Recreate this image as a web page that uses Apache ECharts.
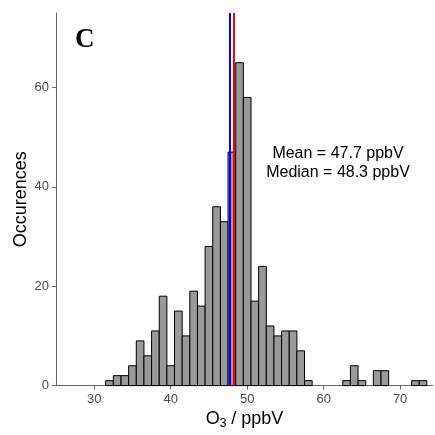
<!DOCTYPE html>
<html>
<head>
    <meta charset="utf-8">
    <title>O3 histogram</title>
    <script src="https://cdn.jsdelivr.net/npm/echarts@6/dist/echarts.min.js"></script>
    <style>
        html, body { margin: 0; padding: 0; background: #fff; }
    </style>
</head>
<body>
    <div id="main" style="width: 435px; height: 435px;"></div>
    <script type="text/javascript">
        // bin centres (ppbV), 1 ppbV wide
        var binCenters = [32, 33, 34, 35, 36, 37, 38, 39, 40, 41, 42, 43, 44, 45, 46, 47, 48, 49, 50,
                          51, 52, 53, 54, 55, 56, 57, 58, 59, 60, 61, 62, 63, 64, 65, 66, 67, 68, 69, 70, 71, 72, 73];
        var counts = [1, 2, 2, 4, 9, 6, 11, 18, 4, 15, 10, 19, 16, 28, 36, 33, 47, 65, 58,
                      17, 24, 12, 10, 11, 11, 7, 1, 0, 0, 0, 0, 1, 4, 1, 0, 3, 3, 0, 0, 0, 1, 1];
        var xTicks = [30, 40, 50, 60, 70];
        var yTicks = [0, 20, 40, 60];
        var meanVal = 47.7;
        var medianVal = 48.3;

        var myChart = echarts.init(document.getElementById('main'));

        var bins = binCenters.map(function (c, i) { return [c, counts[i]]; })
                             .filter(function (d) { return d[1] > 0; });

        var option = {
            animation: false,
            textStyle: { fontFamily: 'Liberation Sans, Arial, sans-serif' },
            grid: { left: 56, right: 2, top: 13, bottom: 49 },
            xAxis: {
                type: 'value',
                min: 25,
                max: 74.3,
                name: '{n|O}{s|3}{n| / ppbV}',
                nameLocation: 'middle',
                nameGap: 17,
                nameTextStyle: {
                    rich: {
                        n: { fontSize: 18, color: '#000', fontFamily: 'Liberation Sans' },
                        s: { fontSize: 12, color: '#000', verticalAlign: 'bottom', padding: [9, 0, 0, 0], fontFamily: 'Liberation Sans' }
                    }
                },
                splitLine: { show: false },
                axisLine: { lineStyle: { color: '#666', width: 1 } },
                axisTick: { customValues: xTicks, length: 4, lineStyle: { color: '#666' } },
                axisLabel: { customValues: xTicks, color: '#4d4d4d', fontSize: 13, margin: 7 }
            },
            yAxis: {
                type: 'value',
                min: 0,
                max: 75,
                name: 'Occurences',
                nameLocation: 'middle',
                nameGap: 26,
                nameMoveOverlap: false,
                nameTextStyle: { fontSize: 18, color: '#000' },
                splitLine: { show: false },
                axisLine: { show: true, lineStyle: { color: '#666', width: 1 } },
                axisTick: { show: true, customValues: yTicks, length: 4, lineStyle: { color: '#666' } },
                axisLabel: { customValues: yTicks, color: '#4d4d4d', fontSize: 13, margin: 7 }
            },
            graphic: [
                {
                    type: 'text', left: 75, top: 27,
                    style: { text: 'C', font: 'bold 27px "Liberation Serif", "Times New Roman", serif', fill: '#000' }
                },
                {
                    type: 'text', x: 338, y: 163,
                    style: {
                        text: 'Mean = 47.7 ppbV\nMedian = 48.3 ppbV',
                        font: '16px "Liberation Sans", Arial, sans-serif',
                        fill: '#000', align: 'center', verticalAlign: 'middle', lineHeight: 19
                    }
                }
            ],
            series: [
                {
                    type: 'custom',
                    data: bins,
                    renderItem: function (params, api) {
                        var c = api.value(0), v = api.value(1);
                        var p0 = api.coord([c - 0.5, v]);
                        var p1 = api.coord([c + 0.5, 0]);
                        return {
                            type: 'rect',
                            shape: { x: p0[0], y: p0[1], width: p1[0] - p0[0], height: p1[1] - p0[1] },
                            style: { fill: '#999999', stroke: '#000', lineWidth: 1 }
                        };
                    },
                    markLine: {
                        silent: true,
                        symbol: 'none',
                        label: { show: false },
                        data: [
                            { xAxis: meanVal, lineStyle: { color: '#0000ff', width: 2, type: 'solid' } },
                            { xAxis: medianVal, lineStyle: { color: '#ff0000', width: 2, type: 'solid' } }
                        ]
                    }
                }
            ]
        };

        myChart.setOption(option);
    </script>
</body>
</html>
